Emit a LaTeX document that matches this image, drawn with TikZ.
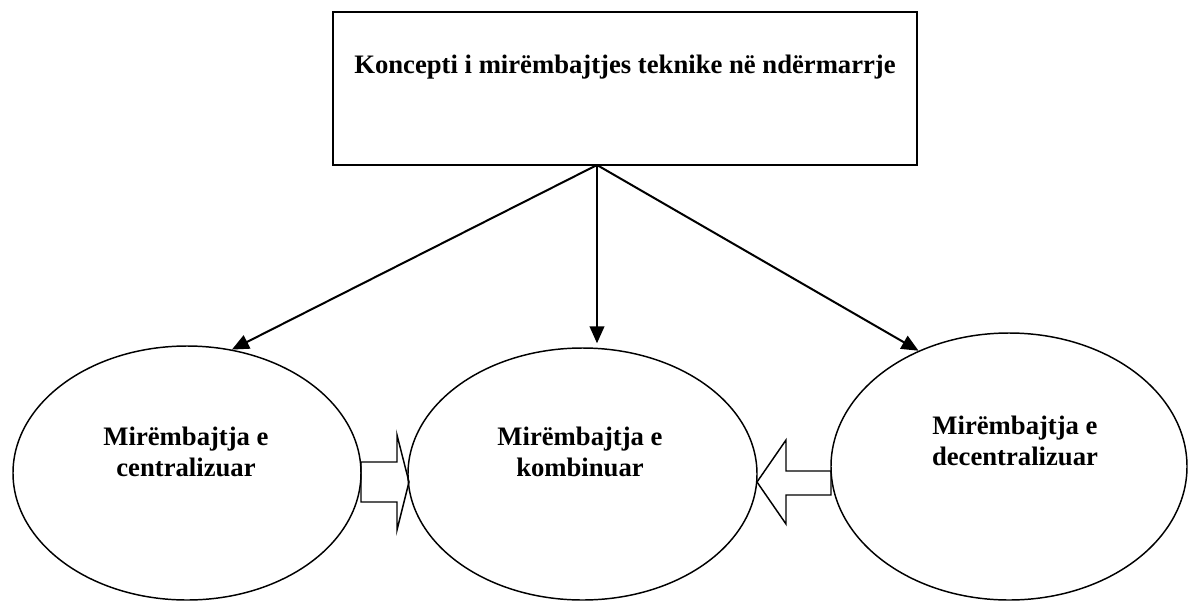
\documentclass[tikz,border=0pt]{standalone}
\usepackage{fontspec}
\setmainfont{Liberation Serif}
\usetikzlibrary{shapes.geometric,arrows.meta}
\begin{document}
\begin{tikzpicture}[x=0.75pt,y=-0.75pt,
  conceptbox/.style={draw,line width=1.5pt,minimum width=438pt,minimum height=114.75pt,inner sep=0pt},
  oval/.style={draw,ellipse,line width=1.1pt,inner sep=0pt},
  lbl/.style={font=\bfseries\fontsize{20}{23}\selectfont,align=center,inner sep=0pt},
  link/.style={line width=1.5pt,-{Triangle[length=12.75pt,width=11pt]}},
  blockarrow/.style={line width=1.1pt,line join=miter}]
\useasboundingbox (0,0) rectangle (1190,601);

% top concept box
\node[conceptbox] (box) at (625,88.5) {};
\node[lbl] (boxtext) at (625,67) {Koncepti i mirëmbajtjes teknike në ndërmarrje};

% the three kinds of maintenance
\node[oval,minimum width=261pt,minimum height=190.5pt] (cen) at (187,473) {};
\node[oval,minimum width=261.75pt,minimum height=189pt] (kom) at (582.5,474) {};
\node[oval,minimum width=267pt,minimum height=200.25pt] (dec) at (1009,466.5) {};

\node[lbl] (centext) at (186,452) {Mirëmbajtja e\\centralizuar};
\node[lbl] (komtext) at (580,452) {Mirëmbajtja e\\kombinuar};
\node[lbl] (dectext) at (1015,441) {Mirëmbajtja e\\decentralizuar};

% arrows from the concept to each kind
\coordinate (src) at (597,165);
\draw[link] (src) -- (cen.70);
\draw[link,shorten >=3pt] (src) -- (src |- kom.north);
\draw[link] (src) -- (dec.128);

% hollow block arrows pointing to the combined form
\draw[blockarrow] (361,462) -- (397,462) -- (397,435) -- (409,482) -- (397,530)
  -- (397,502) -- (361,502) -- cycle;
\draw[blockarrow] (831,471) -- (786,471) -- (786,440) -- (757,482) -- (786,524)
  -- (786,495) -- (831,495) -- cycle;
\end{tikzpicture}
\end{document}
